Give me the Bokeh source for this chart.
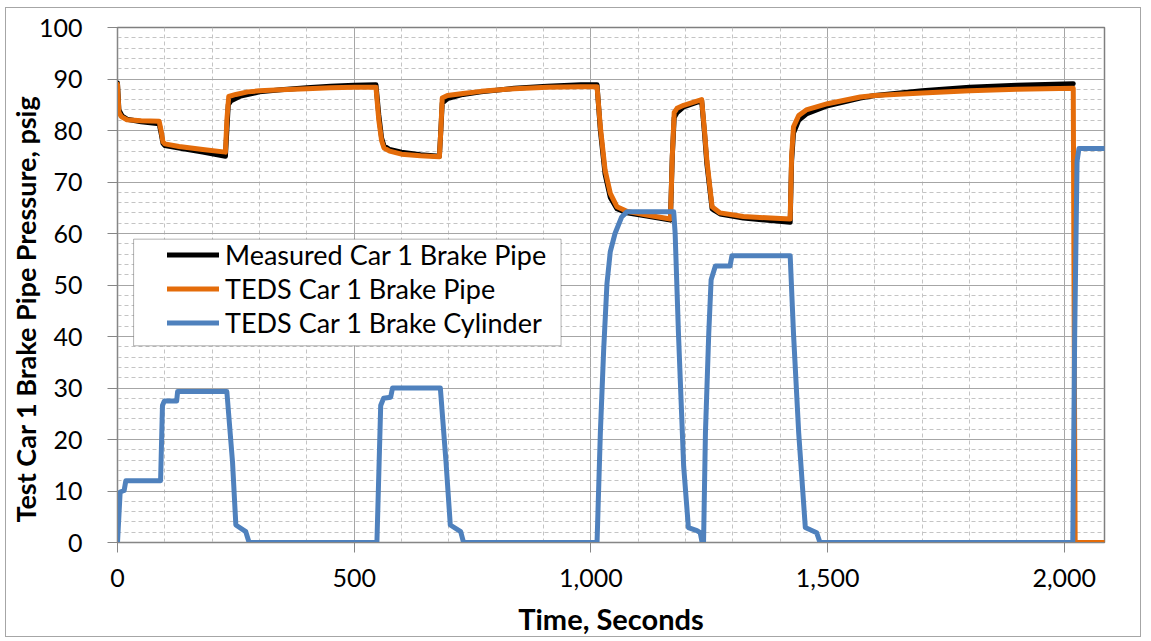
from bokeh.plotting import figure
from bokeh.models import (Range1d, SingleIntervalTicker, NumeralTickFormatter,
                          Legend, LegendItem, BoxAnnotation, Title)
from bokeh.embed import file_html
from bokeh.resources import INLINE

# ---------------- data ----------------
measured_t = [0, 3, 10, 20, 50, 88, 92, 96, 100, 130, 180, 228, 231, 234, 240, 260, 300, 345,
              400, 450, 500, 546, 552, 558, 563, 575, 600, 640, 680, 683, 686, 697, 730, 768,
              838, 908, 979, 1013, 1020, 1030, 1041, 1055, 1076, 1118, 1168, 1172, 1176, 1182,
              1196, 1234, 1240, 1245, 1256, 1273, 1322, 1421, 1424, 1428, 1439, 1455, 1500,
              1569, 1600, 1700, 1800, 1900, 2019]
measured_bp = [89.2, 84.0, 82.8, 82.2, 81.7, 81.3, 79.5, 77.5, 77.1, 76.6, 75.8, 75.0, 80.0, 85.0,
               85.8, 86.7, 87.5, 87.9, 88.3, 88.6, 88.8, 88.9, 83.0, 78.5, 77.0, 76.3, 75.8,
               75.3, 75.0, 80.0, 85.3, 86.2, 87.0, 87.5, 88.2, 88.6, 88.9, 88.9, 80.0, 71.5,
               67.0, 64.8, 64.0, 63.4, 62.6, 75.0, 82.5, 83.5, 84.6, 85.8, 79.5, 73.5, 64.8,
               63.8, 63.0, 62.2, 74.0, 79.5, 82.0, 83.2, 84.8, 86.3, 86.8, 87.7, 88.4, 88.8,
               89.1]

teds_bp_t = [0, 3, 8, 20, 50, 88, 92, 96, 100, 130, 180, 228, 231, 235, 250, 275, 300, 345, 400,
             450, 500, 546, 552, 558, 563, 575, 600, 640, 680, 683, 686, 697, 730, 768, 838, 908,
             979, 1013, 1020, 1030, 1041, 1055, 1076, 1118, 1168, 1172, 1176, 1182, 1196, 1234,
             1240, 1245, 1256, 1273, 1322, 1380, 1421, 1424, 1428, 1439, 1455, 1500, 1569, 1600,
             1700, 1800, 1900, 2019, 2021, 2023, 2085]
teds_bp = [89.0, 83.5, 82.7, 82.1, 81.9, 81.8, 80.0, 77.8, 77.4, 76.9, 76.3, 75.8, 82.0, 86.6,
           87.0, 87.5, 87.7, 87.9, 88.1, 88.3, 88.4, 88.4, 82.0, 78.0, 76.6, 76.0, 75.4, 75.1,
           74.9, 80.0, 86.3, 86.8, 87.2, 87.6, 88.1, 88.4, 88.5, 88.5, 80.7, 72.3, 67.8, 65.2,
           64.3, 63.6, 62.8, 75.0, 83.5, 84.3, 84.9, 86.0, 80.0, 74.2, 65.2, 64.0, 63.3, 63.0,
           62.8, 75.0, 80.7, 82.9, 84.0, 85.2, 86.5, 86.8, 87.3, 87.7, 88.0, 88.2, 40.0, 0.0,
           0.0]

teds_bc_t = [0, 5.6, 14, 17.6, 91, 95, 99, 125, 127, 231, 243, 250, 271, 278, 548, 556, 562,
             577, 581, 682, 694, 703, 725, 731, 1009, 1013, 1020, 1027, 1034, 1041, 1051, 1065,
             1076, 1175, 1178, 1185, 1196, 1206, 1224, 1231, 1235, 1238, 1242, 1249, 1254, 1263,
             1294, 1298, 1421, 1428, 1439, 1453, 1477, 1484, 2018, 2022, 2027, 2031, 2085]
teds_bc = [0.0, 9.8, 10.1, 12.0, 12.0, 26.6, 27.5, 27.5, 29.3, 29.3, 15.6, 3.4, 2.1, 0.0, 0.0,
           26.6, 28.0, 28.2, 30.0, 30.0, 15.6, 3.4, 2.1, 0.0, 0.0, 0.0, 21.3, 37.4, 50.3, 56.5,
           60.0, 63.2, 64.2, 64.2, 60.0, 40.6, 14.8, 2.9, 2.3, 1.9, 0.0, 0.0, 21.3, 40.6, 51.0,
           53.7, 53.7, 55.7, 55.7, 40.6, 21.3, 2.9, 1.9, 0.0, 0.0, 40.0, 74.0, 76.5, 76.5]

series_names = ["Measured Car 1 Brake Pipe", "TEDS Car 1 Brake Pipe",
                "TEDS Car 1 Brake Cylinder"]
x_title = "Time, Seconds"
y_title = "Test Car 1 Brake Pipe Pressure, psig"

# ---------------- figure ----------------
FONT = "Lato"
p = figure(width=1136, height=630, title=None,
           x_range=Range1d(0, 2085), y_range=Range1d(0, 100),
           output_backend="svg", toolbar_location=None,
           min_border_left=111, min_border_right=38, min_border_top=19,
           min_border_bottom=87)
p.styles = {"border": "1px solid #a6a6a6", "margin-left": "5px", "margin-top": "7px"}
p.background_fill_color = "white"
p.border_fill_color = "white"
p.outline_line_color = "#7f7f7f"
p.outline_line_width = 1.5

p.xaxis.ticker = SingleIntervalTicker(interval=500, num_minor_ticks=5)
p.yaxis.ticker = SingleIntervalTicker(interval=10, num_minor_ticks=5)
p.xaxis.formatter = NumeralTickFormatter(format="0,0")

for ax in (p.xaxis, p.yaxis):
    ax.axis_line_color = "#868686"
    ax.axis_line_width = 1
    ax.major_tick_line_color = "#868686"
    ax.major_tick_out = 10
    ax.major_tick_in = 0
    ax.minor_tick_out = 0
    ax.minor_tick_in = 0
    ax.major_label_text_font = FONT
    ax.major_label_text_font_size = "25px"
    ax.major_label_text_color = "black"
    ax.axis_label_text_font = FONT
    ax.axis_label_text_font_size = "29px"
    ax.axis_label_text_font_style = "bold"
    ax.axis_label_text_color = "black"

p.xaxis.axis_label = x_title
p.xaxis.major_label_standoff = 16
p.xaxis.axis_label_standoff = 11
p.yaxis.major_label_standoff = 25

# y-axis title as a side title, so it can sit a little below the frame centre
p.add_layout(Title(text=y_title, align="left", offset=20, standoff=-12,
                   text_font=FONT, text_font_size="27px", text_font_style="bold",
                   text_color="black"), "left")

for g in (p.xgrid, p.ygrid):
    g.grid_line_color = "#a6a6a6"
    g.grid_line_width = 1
    g.minor_grid_line_color = "#c4c4c4"
    g.minor_grid_line_width = 1
    g.minor_grid_line_dash = "4 3"

r_meas = p.line(measured_t, measured_bp, line_color="black", line_width=5,
                line_join="round", line_cap="round")
r_bp = p.line(teds_bp_t, teds_bp, line_color="#E46C0A", line_width=5,
              line_join="round", line_cap="round")
r_bc = p.line(teds_bc_t, teds_bc, line_color="#4F81BD", line_width=5,
              line_join="round", line_cap="round")

# legend frame
p.add_layout(BoxAnnotation(left=34, right=937, bottom=38.2, top=58.9,
                           fill_color="white", fill_alpha=1.0,
                           line_color="black", line_width=1, level="annotation"))

legend = Legend(items=[LegendItem(label=series_names[0], renderers=[r_meas]),
                       LegendItem(label=series_names[1], renderers=[r_bp]),
                       LegendItem(label=series_names[2], renderers=[r_bc])],
                location=(50, 203), orientation="vertical",
                background_fill_alpha=0.0, border_line_alpha=0.0,
                padding=0, margin=0, spacing=1,
                glyph_width=52, glyph_height=33, label_height=33,
                label_standoff=6,
                label_text_font=FONT, label_text_font_size="27px",
                label_text_color="black")
p.add_layout(legend)

open("out.html", "w").write(file_html(p, INLINE))
